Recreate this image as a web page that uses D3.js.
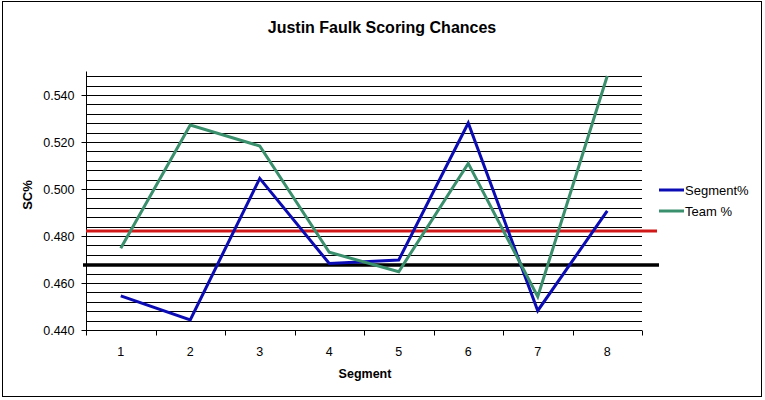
<!DOCTYPE html>
<html>
<head>
<meta charset="utf-8">
<script src="https://cdn.jsdelivr.net/npm/d3@7/dist/d3.min.js"></script>
<style>
  body { margin: 0; background: #fff; }
  svg { display: block; font-family: "Liberation Sans", Arial, sans-serif; }
</style>
</head>
<body>
<svg id="chart" width="765" height="400"></svg>
<script>
const categories = ["1", "2", "3", "4", "5", "6", "7", "8"];
const segmentPct = [0.4545, 0.4443, 0.5045, 0.4683, 0.4698, 0.5281, 0.4482, 0.4907];
const teamPct = [0.4748, 0.5272, 0.5183, 0.4731, 0.4648, 0.5109, 0.4542, 0.5481];
const redLineValue = 0.4821;
const blackLineValue = 0.4677;
const yTicks = [0.440, 0.460, 0.480, 0.500, 0.520, 0.540];
const gridValues = d3.range(0, 28).map(i => +(0.440 + i * 0.004).toFixed(3));
const seriesNames = ["Segment%", "Team %"];

(function () {
const svg = d3.select("#chart");
const pLeft = 86, pRight = 642, pTop = 71.5, pBottom = 330;

// outer frame
svg.append("rect").attr("x", 2.5).attr("y", 1.5).attr("width", 759).attr("height", 395)
  .attr("fill", "#fff").attr("stroke", "#000").attr("stroke-width", 1);

const x = d3.scaleBand().domain(categories).range([pLeft, pRight]).padding(0);
const y = d3.scaleLinear().domain([0.440, 0.550]).range([pBottom, pTop]);

// gridlines
svg.append("g").selectAll("line").data(gridValues.filter(v => v > 0.4405)).join("line")
  .attr("x1", pLeft).attr("x2", pRight)
  .attr("y1", d => Math.round(y(d)) + 0.5).attr("y2", d => Math.round(y(d)) + 0.5)
  .attr("stroke", "#000").attr("stroke-width", 1);

// y axis
const yAxis = d3.axisLeft(y).tickValues(yTicks).tickFormat(d3.format(".3f")).tickSize(5).tickPadding(7);
const gy = svg.append("g").attr("transform", `translate(${pLeft + 0.5},0)`).call(yAxis);
gy.select(".domain").attr("stroke", "#000").attr("d", `M0,${pTop}V${pBottom}`);
gy.selectAll(".tick line").attr("stroke", "#000");
gy.selectAll(".tick text").attr("font-size", 12.5).attr("fill", "#000")
  .attr("font-family", "'Liberation Sans', Arial, sans-serif");

// x axis
const xAxis = d3.axisBottom(x).tickSize(0).tickPadding(17);
const gx = svg.append("g").attr("transform", `translate(0,${pBottom + 0.5})`).call(xAxis);
gx.select(".domain").attr("stroke", "#000").attr("d", `M${pLeft},0H${pRight}`);
gx.selectAll(".tick text").attr("font-size", 12.5).attr("fill", "#000")
  .attr("font-family", "'Liberation Sans', Arial, sans-serif");
const boundaries = categories.map(c => x(c)).concat([x(categories[categories.length - 1]) + x.bandwidth()]);
gx.append("g").selectAll("line").data(boundaries).join("line")
  .attr("x1", d => Math.round(d) + 0.5).attr("x2", d => Math.round(d) + 0.5)
  .attr("y1", 0).attr("y2", 5).attr("stroke", "#000");

// reference lines
svg.append("line").attr("x1", pLeft).attr("x2", 657)
  .attr("y1", y(redLineValue)).attr("y2", y(redLineValue))
  .attr("stroke", "#d01818").attr("stroke-width", 3);
svg.append("line").attr("x1", 83).attr("x2", 659)
  .attr("y1", y(blackLineValue)).attr("y2", y(blackLineValue))
  .attr("stroke", "#000").attr("stroke-width", 3.5);

// series lines
const cx = c => x(c) + x.bandwidth() / 2;
const line = d3.line().x((d, i) => cx(categories[i])).y(d => y(d));
const colors = ["#0c0cb4", "#3a8f6c"];
[segmentPct, teamPct].forEach((s, k) => {
  svg.append("path").datum(s).attr("d", line)
    .attr("fill", "none").attr("stroke", colors[k]).attr("stroke-width", 3)
    .attr("stroke-linejoin", "miter");
});

// title
svg.append("text").attr("x", 382).attr("y", 33).attr("text-anchor", "middle")
  .attr("font-size", 16).attr("font-weight", "bold").text("Justin Faulk Scoring Chances");

// axis titles
svg.append("text").attr("x", 365).attr("y", 378).attr("text-anchor", "middle")
  .attr("font-size", 12.5).attr("font-weight", "bold").text("Segment");
svg.append("text").attr("transform", "translate(32,195) rotate(-90)").attr("text-anchor", "middle")
  .attr("font-size", 13).attr("font-weight", "bold").text("SC%");

// legend
const lg = svg.append("g");
seriesNames.forEach((n, k) => {
  const ly = 190 + k * 21;
  lg.append("line").attr("x1", 659).attr("x2", 684).attr("y1", ly).attr("y2", ly)
    .attr("stroke", colors[k]).attr("stroke-width", 3);
  lg.append("text").attr("x", 685).attr("y", ly + 4.5).attr("font-size", 13).text(n);
});
})();
</script>
</body>
</html>
